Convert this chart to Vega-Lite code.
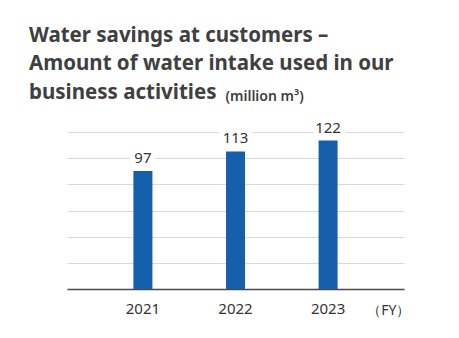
{
  "$schema": "https://vega.github.io/schema/vega-lite/v6.json",
  "width": 337,
  "height": 157,
  "autosize": "none",
  "padding": {"left": 67, "top": 132, "right": 55, "bottom": 49},
  "background": "white",
  "config": {
    "view": {"stroke": null},
    "font": "Noto Sans"
  },
  "title": {
    "text": ["Water savings at customers –", "Amount of water intake used in our", "business activities"],
    "anchor": "start",
    "frame": "group",
    "dx": -38,
    "dy": 18,
    "font": "Noto Sans",
    "fontSize": 20.5,
    "fontWeight": "bold",
    "lineHeight": 28.5,
    "color": "#404040"
  },
  "data": {
    "values": [
      {"year": "2021", "value": 97},
      {"year": "2022", "value": 113},
      {"year": "2023", "value": 122}
    ]
  },
  "encoding": {
    "x": {
      "field": "year",
      "type": "ordinal",
      "scale": {"paddingInner": 0, "paddingOuter": 0.32},
      "axis": {
        "labelAngle": 0,
        "labelFontSize": 15,
        "labelColor": "#333333",
        "labelPadding": 12,
        "ticks": false,
        "domainColor": "#4a4a4a",
        "domainWidth": 1.5,
        "grid": false,
        "title": "（FY）",
        "titleFontSize": 14,
        "titleFontWeight": "normal",
        "titleColor": "#333333",
        "titleX": 343,
        "titleY": 25,
        "titleAlign": "right",
        "titleBaseline": "alphabetic"
      }
    },
    "y": {
      "field": "value",
      "type": "quantitative",
      "scale": {"domain": [0, 129], "nice": false},
      "axis": {
        "values": [0, 21.5, 43, 64.5, 86, 107.5, 129],
        "grid": true,
        "gridColor": "#d9d9d9",
        "gridWidth": 1,
        "domain": false,
        "ticks": false,
        "labels": false,
        "title": "(million m³)",
        "titleAngle": 0,
        "titleFontSize": 14,
        "titleFontWeight": 600,
        "titleColor": "#404040",
        "titleX": 158,
        "titleY": -32,
        "titleAlign": "left",
        "titleBaseline": "alphabetic"
      }
    }
  },
  "layer": [
    {"mark": {"type": "bar", "size": 19, "color": "#155fad"}},
    {
      "mark": {"type": "text", "baseline": "alphabetic", "dy": -8, "fontSize": 15, "stroke": "white", "strokeWidth": 11, "strokeJoin": "round", "fill": "white"},
      "encoding": {"text": {"field": "value", "type": "quantitative"}}
    },
    {
      "mark": {"type": "text", "baseline": "alphabetic", "dy": -8, "fontSize": 15, "color": "#333333"},
      "encoding": {"text": {"field": "value", "type": "quantitative"}}
    }
  ]
}
